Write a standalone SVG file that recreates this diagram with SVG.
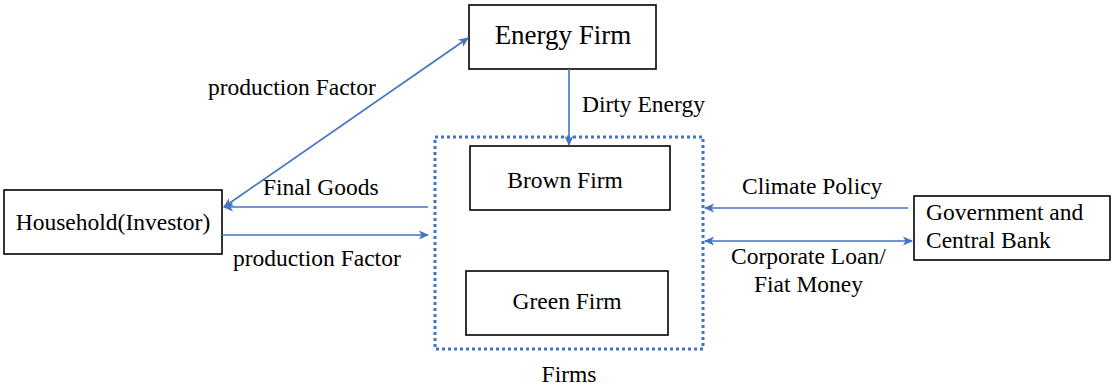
<svg xmlns="http://www.w3.org/2000/svg" width="1114" height="387" viewBox="0 0 1114 387">
<style>
.box{fill:#fff;stroke:#000;stroke-width:1.6}
.t{font-family:"Liberation Serif","Times New Roman",serif;font-size:23.5px;fill:#000}
.c{stroke:#4472C4;stroke-width:1.6;fill:none}
</style>
<defs>
<marker id="ah" viewBox="0 0 10 10" refX="9" refY="5" markerWidth="10" markerHeight="10" markerUnits="userSpaceOnUse" orient="auto-start-reverse">
<path d="M0,0.5 L10,5 L0,9.5 L2.5,5 Z" fill="#4472C4"/>
</marker>
</defs>
<rect width="1114" height="387" fill="#fff"/>
<g id="firms">
<rect x="435" y="137" width="268" height="212" fill="none" stroke="#4472C4" stroke-width="3" stroke-dasharray="3,3"/>
<text class="t" x="569" y="382" text-anchor="middle">Firms</text>
</g>
<g id="energy-firm">
<rect class="box" x="469" y="5" width="187" height="64"/>
<text class="t" x="563" y="44" text-anchor="middle" style="font-size:27px">Energy Firm</text>
</g>
<g id="household">
<rect class="box" x="4" y="190" width="218" height="64"/>
<text class="t" x="113" y="230" text-anchor="middle">Household(Investor)</text>
</g>
<g id="brown-firm">
<rect class="box" x="470" y="146" width="200" height="64"/>
<text class="t" x="565" y="188" text-anchor="middle">Brown Firm</text>
</g>
<g id="green-firm">
<rect class="box" x="466" y="271" width="202" height="64"/>
<text class="t" x="567" y="309" text-anchor="middle">Green Firm</text>
</g>
<g id="government">
<rect class="box" x="914" y="196" width="196" height="64"/>
<text class="t" x="926" y="220">Government and</text>
<text class="t" x="926" y="248">Central Bank</text>
</g>
<g id="connectors">
<line class="c" x1="224" y1="207" x2="468" y2="38" marker-start="url(#ah)" marker-end="url(#ah)"/>
<line class="c" x1="569" y1="69" x2="569" y2="145" marker-end="url(#ah)"/>
<line class="c" x1="428" y1="207" x2="224" y2="207" marker-end="url(#ah)"/>
<line class="c" x1="222" y1="235" x2="428" y2="235" marker-end="url(#ah)"/>
<line class="c" x1="908" y1="208" x2="705" y2="208" marker-end="url(#ah)"/>
<line class="c" x1="705" y1="241" x2="912" y2="241" marker-start="url(#ah)" marker-end="url(#ah)"/>
<text class="t" x="208" y="95">production Factor</text>
<text class="t" x="582" y="112">Dirty Energy</text>
<text class="t" x="263" y="195">Final Goods</text>
<text class="t" x="233" y="266">production Factor</text>
<text class="t" x="742" y="194">Climate Policy</text>
<text class="t" x="731" y="264">Corporate Loan/</text>
<text class="t" x="754" y="292">Fiat Money</text>
</g>
</svg>
